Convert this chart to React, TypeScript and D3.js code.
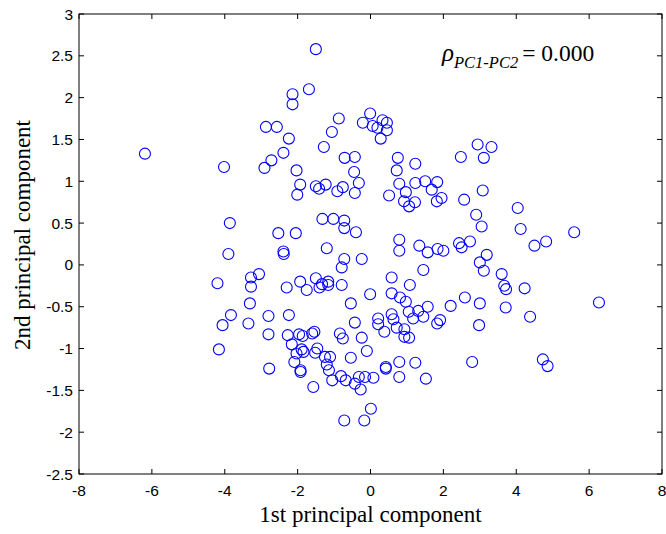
import React from "react";
import * as d3 from "d3";

const pc1: number[] = [
  -6.19, -1.50, -1.69, -2.14, -2.14, -0.87, -1.06, -1.28, -2.87, -2.57,
  -2.24, -2.39, -2.72, -2.91, -2.03, -0.71, -0.43, -0.45, 0.75, 0.72,
  1.23, 2.48, -0.01, -0.21, 0.06, 0.19, 0.33, 0.45, 0.45, 0.28,
  2.94, 3.32, 3.11, -4.02, -3.86, -3.90, -3.06, -3.28, -3.28, -4.20,
  -3.31, -3.83, -4.06, -3.35, -2.80, -4.16, -2.80, -2.78, -0.32, -0.76,
  -0.91, -0.43, -1.23, -1.50, -1.41, -1.93, -2.01, 0.51, 0.79, 1.23,
  1.50, 1.83, 0.97, 1.68, 0.92, 1.22, 1.06, 1.82, 1.95, 2.57,
  -1.32, -1.02, -0.72, -0.72, -0.40, -2.53, -2.05, -2.39, -2.38, -1.20,
  0.79, 0.79, 1.34, 1.57, 1.84, 2.00, 2.43, 2.50, 2.73, -0.72,
  -0.79, -0.24, 1.45, 0.58, 1.08, -1.93, -1.50, -2.30, -1.75, -1.40,
  -1.33, -1.16, -1.16, -0.79, -0.01, 0.58, 0.81, 0.97, -0.54, 1.57,
  2.20, 1.05, 1.31, 1.45, 1.17, 0.58, 0.63, 0.21, 0.21, -0.43,
  1.91, 1.83, -2.24, 3.08, 2.90, 3.05, 4.04, 4.12, 5.59, 4.82,
  4.50, 3.19, 3.00, 3.11, 3.60, 3.67, 3.72, 4.23, 2.59, 3.00,
  3.71, 4.38, 6.27, 2.98, 2.79, 4.73, 4.86, -2.27, -1.96, -1.86,
  -1.60, -1.54, -0.84, -0.76, -0.24, 0.38, 0.72, 0.93, 0.93, 1.06,
  -2.16, -2.03, -1.89, -1.84, -2.09, -1.92, -1.92, -1.52, -1.46, -1.25,
  -1.11, -1.20, -1.14, -1.57, -1.05, -0.81, -0.68, -0.54, -0.10, -0.43,
  -0.32, -0.15, -0.27, 0.08, 0.42, 0.42, 0.79, 1.23, 0.79, 1.52,
  0.01, -0.72, -0.17,
];

const pc2: number[] = [
  1.33, 2.58, 2.10, 2.04, 1.92, 1.75, 1.59, 1.41, 1.65, 1.65,
  1.51, 1.34, 1.25, 1.16, 1.13, 1.28, 1.29, 1.11, 1.28, 1.13,
  1.21, 1.29, 1.81, 1.70, 1.66, 1.64, 1.73, 1.70, 1.61, 1.51,
  1.44, 1.41, 1.28, 1.17, 0.50, 0.13, -0.11, -0.15, -0.26, -0.22,
  -0.46, -0.60, -0.72, -0.70, -0.61, -1.01, -0.83, -1.24, 0.98, 0.93,
  0.88, 0.86, 0.96, 0.94, 0.91, 0.96, 0.84, 0.83, 0.97, 0.98,
  1.00, 0.99, 0.87, 0.90, 0.76, 0.75, 0.70, 0.76, 0.80, 0.78,
  0.55, 0.55, 0.53, 0.44, 0.39, 0.38, 0.38, 0.16, 0.13, 0.20,
  0.30, 0.17, 0.23, 0.15, 0.19, 0.17, 0.26, 0.21, 0.28, 0.07,
  -0.03, 0.07, -0.06, -0.15, -0.24, -0.20, -0.16, -0.27, -0.30, -0.27,
  -0.23, -0.20, -0.24, -0.24, -0.35, -0.34, -0.39, -0.44, -0.46, -0.50,
  -0.49, -0.56, -0.55, -0.62, -0.64, -0.59, -0.65, -0.64, -0.71, -0.69,
  -0.66, -0.70, -0.60, 0.89, 0.60, 0.46, 0.68, 0.43, 0.39, 0.28,
  0.23, 0.12, 0.03, -0.07, -0.11, -0.25, -0.29, -0.28, -0.39, -0.46,
  -0.51, -0.62, -0.45, -0.72, -1.16, -1.13, -1.21, -0.84, -0.83, -0.85,
  -0.82, -0.80, -0.82, -0.88, -0.87, -0.80, -0.75, -0.77, -0.86, -0.87,
  -0.95, -1.06, -1.01, -1.04, -1.16, -1.26, -1.28, -1.05, -1.00, -1.10,
  -1.10, -1.19, -1.26, -1.46, -1.38, -1.33, -1.38, -1.11, -1.03, -1.42,
  -1.34, -1.34, -1.49, -1.35, -1.22, -1.24, -1.16, -1.17, -1.34, -1.36,
  -1.72, -1.86, -1.86,
];

const xTicks: number[] = [-8, -6, -4, -2, 0, 2, 4, 6, 8];
const yTicks: number[] = [-2.5, -2, -1.5, -1, -0.5, 0, 0.5, 1, 1.5, 2, 2.5, 3];

const W = 666;
const H = 534;
const L = 79;
const R = 662;
const T = 14;
const B = 474;

export default function App() {
  const x = d3.scaleLinear().domain([-8, 8]).range([L, R]);
  const y = d3.scaleLinear().domain([-2.5, 3]).range([B, T]);
  const pts = pc1.map((v, i) => [v, pc2[i]] as [number, number]);
  const tickLen = 5;
  const tickFont = "'Liberation Sans', Arial, sans-serif";
  const serif = "'Liberation Serif', 'Times New Roman', serif";
  return (
    <svg
      width={W}
      height={H}
      style={{ position: "absolute", left: 0, top: 0, background: "#fff" }}
    >
      <rect x={0} y={0} width={W} height={H} fill="#fff" />
      {pts.map((p, i) => (
        <circle
          key={i}
          cx={x(p[0])}
          cy={y(p[1])}
          r={5.5}
          fill="none"
          stroke="#0000ff"
          strokeWidth={1.1}
        />
      ))}
      <rect x={L} y={T} width={R - L} height={B - T} fill="none" stroke="#000" strokeWidth={1} />
      {xTicks.map((t) => (
        <g key={"x" + t}>
          <line x1={x(t)} x2={x(t)} y1={B} y2={B - tickLen} stroke="#000" />
          <line x1={x(t)} x2={x(t)} y1={T} y2={T + tickLen} stroke="#000" />
          <text
            x={x(t)}
            y={496}
            textAnchor="middle"
            fontFamily={tickFont}
            fontSize={15.5}
            fill="#000"
          >
            {t}
          </text>
        </g>
      ))}
      {yTicks.map((t) => (
        <g key={"y" + t}>
          <line x1={L} x2={L + tickLen} y1={y(t)} y2={y(t)} stroke="#000" />
          <line x1={R} x2={R - tickLen} y1={y(t)} y2={y(t)} stroke="#000" />
          <text
            x={73}
            y={y(t) + 5.5}
            textAnchor="end"
            fontFamily={tickFont}
            fontSize={15.5}
            fill="#000"
          >
            {t}
          </text>
        </g>
      ))}
      <text
        x={(L + R) / 2}
        y={522}
        textAnchor="middle"
        fontFamily={serif}
        fontSize={23}
        fill="#000"
      >
        1st principal component
      </text>
      <text
        transform={`translate(30, ${(T + B) / 2 - 9}) rotate(-90)`}
        textAnchor="middle"
        fontFamily={serif}
        fontSize={23}
        fill="#000"
      >
        2nd principal component
      </text>
      <text x={442} y={61} fontFamily={serif} fill="#000">
        <tspan fontStyle="italic" fontSize={25}>ρ</tspan>
        <tspan fontStyle="italic" fontSize={16.5} dy={7}>PC1-PC2</tspan>
        <tspan fontSize={23.5} dy={-7} dx={4}>= 0.000</tspan>
      </text>
    </svg>
  );
}
